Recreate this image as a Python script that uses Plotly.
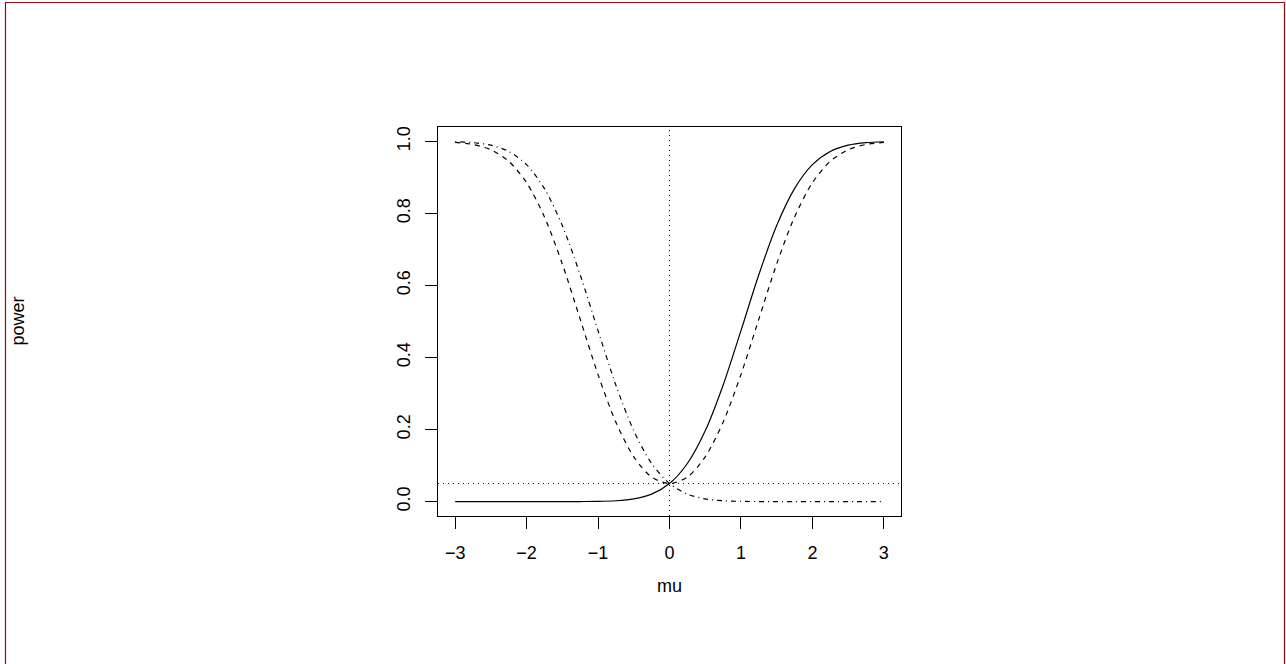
import plotly.graph_objects as go

# Data (power curves)
mu = [-3.0, -2.75, -2.5, -2.25, -2.0, -1.75, -1.5, -1.25, -1.0, -0.75, -0.5, -0.25,
      0.0, 0.25, 0.5, 0.75, 1.0, 1.25, 1.5, 1.75, 2.0, 2.25, 2.5, 2.75, 3.0]
power_upper = [0.0, 0.0, 0.0, 0.0, 0.0, 0.0, 0.00003, 0.00015, 0.0006, 0.0023, 0.0074, 0.0207,
               0.05, 0.1057, 0.1965, 0.3231, 0.4745, 0.6297, 0.7664, 0.8690, 0.9354, 0.9721,
               0.9895, 0.9966, 0.9990]
power_two = [0.9973, 0.9915, 0.9769, 0.9449, 0.8853, 0.7902, 0.6598, 0.5065, 0.3526, 0.2203,
             0.1242, 0.0681, 0.05, 0.0681, 0.1242, 0.2203, 0.3526, 0.5065, 0.6598, 0.7902,
             0.8853, 0.9449, 0.9769, 0.9915, 0.9973]
power_lower = [0.9990, 0.9966, 0.9895, 0.9721, 0.9354, 0.8690, 0.7664, 0.6297, 0.4745, 0.3231,
               0.1965, 0.1057, 0.05, 0.0207, 0.0074, 0.0023, 0.0006, 0.00015, 0.00003, 0.0,
               0.0, 0.0, 0.0, 0.0, 0.0]
alpha = 0.05
x_ticks = [-3, -2, -1, 0, 1, 2, 3]
y_ticks = [0.0, 0.2, 0.4, 0.6, 0.8, 1.0]

FONT = "Liberation Sans, Arial, sans-serif"
W, H = 1286, 664
L, R, T, B = 438, 385, 127, 148
pw, ph = W - L - R, H - T - B

fig = go.Figure()
fig.add_trace(go.Scatter(x=mu, y=power_upper, mode="lines",
                         line=dict(color="black", width=1.2, shape="spline", smoothing=0.8)))
fig.add_trace(go.Scatter(x=mu, y=power_two, mode="lines",
                         line=dict(color="black", width=1.2, dash="5px,5px", shape="spline", smoothing=0.8)))
fig.add_trace(go.Scatter(x=mu, y=power_lower, mode="lines",
                         line=dict(color="black", width=1.2, dash="1px,4px,5px,4px", shape="spline", smoothing=0.8)))

# reference lines (abline)
fig.add_shape(type="line", xref="x", yref="paper", x0=0, x1=0, y0=0, y1=1,
              line=dict(color="black", width=1, dash="1px,4px"))
fig.add_shape(type="line", xref="paper", yref="y", x0=0, x1=1, y0=alpha, y1=alpha,
              line=dict(color="black", width=1, dash="1px,4px"))

# outer dark red frame
def px_x(p):
    return (p - L) / pw

def px_y(p):
    return (H - B - p) / ph

fig.add_shape(type="rect", xref="paper", yref="paper",
              x0=px_x(5.5), x1=px_x(1284.5), y0=px_y(670), y1=px_y(2.5),
              line=dict(color="#9a0a0a", width=1.2), layer="above")

fig.add_annotation(text="mu", xref="paper", yref="paper", x=0.5, y=px_y(586),
                   showarrow=False, xanchor="center", yanchor="middle",
                   font=dict(family=FONT, size=18, color="black"))
fig.add_annotation(text="power", xref="paper", yref="paper", x=px_x(17), y=0.5,
                   showarrow=False, xanchor="center", yanchor="middle", textangle=-90,
                   font=dict(family=FONT, size=18, color="black"))

fig.update_layout(
    width=W, height=H,
    margin=dict(l=L, r=R, t=T, b=B),
    paper_bgcolor="white", plot_bgcolor="white",
    showlegend=False,
    font=dict(family=FONT, size=18, color="black"),
    xaxis=dict(range=[-3.24, 3.24], tickvals=x_ticks, ticktext=[("\u2212" + str(-v)) if v < 0 else str(v) for v in x_ticks],
               showgrid=False, zeroline=False, showline=True, mirror=True,
               linecolor="black", linewidth=1, ticks="outside", ticklen=12,
               tickcolor="black", tickwidth=1, ticklabelstandoff=8),
    yaxis=dict(range=[-0.04, 1.04], tickvals=y_ticks, ticktext=[f"{v:.1f}" for v in y_ticks],
               tickangle=-90, showgrid=False, zeroline=False, showline=True, mirror=True,
               linecolor="black", linewidth=1, ticks="outside", ticklen=12,
               tickcolor="black", tickwidth=1, ticklabelstandoff=8),
)

fig.write_html("out.html", config={"displayModeBar": False},
               post_script="document.body.style.margin='0';document.body.style.overflow='hidden';")
